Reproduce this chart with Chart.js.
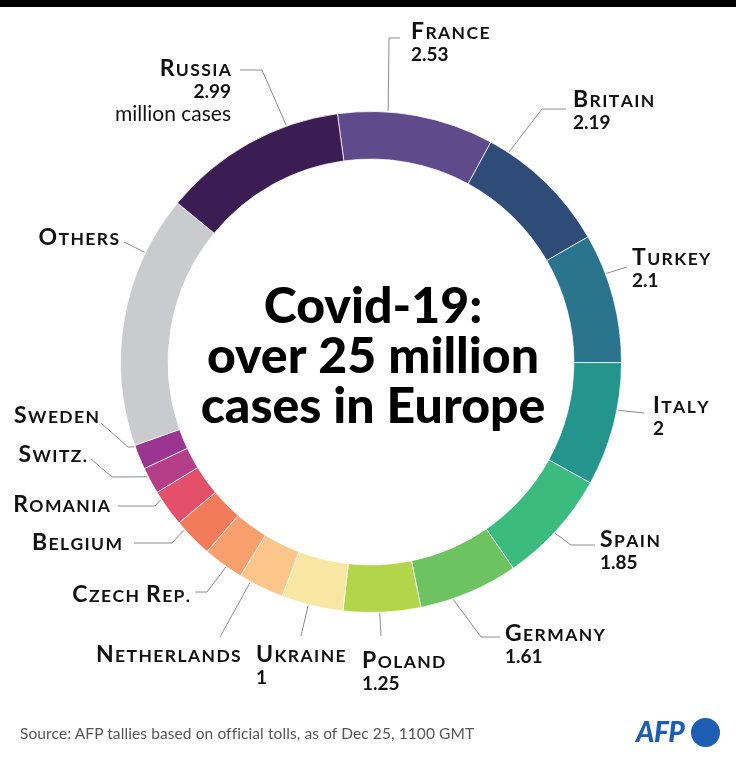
<!DOCTYPE html>
<html>
<head>
<meta charset="utf-8">
<script src="https://cdn.jsdelivr.net/npm/chart.js@4.4.0/dist/chart.umd.min.js"></script>
<style>
  html, body { margin: 0; padding: 0; background: #fff; }
  #wrap { position: relative; width: 736px; height: 762px; overflow: hidden; border-top: 7px solid #000; box-sizing: border-box; }
  #chart { position: absolute; left: 0; top: -7px; }
  #source { position: absolute; left: 20px; top: 717px; font: 15.5px Lato, sans-serif; color: #555; letter-spacing: 0.1px; }
  #afp { position: absolute; left: 636px; top: 707px; font: italic 900 28px Lato, sans-serif; color: #1d5db2; letter-spacing: -0.5px; }
  #afpdot { position: absolute; left: 691px; top: 711px; width: 29px; height: 29px; border-radius: 50%; background: #1d5db2; }
</style>
</head>
<body>
<div id="wrap">
  <canvas id="chart" width="736" height="762"></canvas>
  <div id="source">Source: AFP tallies based on official tolls, as of Dec 25, 1100 GMT</div>
  <div id="afp">AFP</div>
  <div id="afpdot"></div>
</div>
<script>
// cases in millions, clockwise from the top
const countries = ['France', 'Britain', 'Turkey', 'Italy', 'Spain', 'Germany', 'Poland', 'Ukraine',
  'Netherlands', 'Czech Rep.', 'Belgium', 'Romania', 'Switz.', 'Sweden', 'Others', 'Russia'];
const cases = [2.53, 2.19, 2.1, 2, 1.85, 1.61, 1.25, 1, 0.74, 0.66, 0.64, 0.6, 0.43, 0.4, 4.1, 2.99];
const valueLabels = ['2.53', '2.19', '2.1', '2', '1.85', '1.61', '1.25', '1',
  '', '', '', '', '', '', '', '2.99'];

const sliceColors = ['#5f4b8b', '#2f4c79', '#2a748e', '#23958d', '#3bbb7e', '#6dc262', '#b3d54a', '#f7e7a3',
  '#fcc68a', '#f8a06d', '#f27b59', '#e4506a', '#b43e87', '#9b3592', '#cacbce', '#3c1d53'];

const titleLines = ['Covid-19:', 'over 25 million', 'cases in Europe'];

// callout layout: where the leader meets the slice (fraction of its arc), the bends, and the text
const callouts = [
  {name: 'France', f: 0.32, path: [[389, 38], [400, 38]], x: 411, y: 39, align: 'left'},
  {name: 'Britain', f: 0.15, path: [[542, 109], [566, 109]], x: 573, y: 107, align: 'left'},
  {name: 'Turkey', f: 0.31, path: [[627, 267]], x: 632, y: 265, align: 'left'},
  {name: 'Italy', f: 0.38, path: [[644, 413]], x: 653, y: 413, align: 'left'},
  {name: 'Spain', f: 0.53, path: [[571, 545], [595, 545]], x: 600, y: 547, align: 'left'},
  {name: 'Germany', f: 0.67, path: [[481, 637], [500, 637]], x: 505, y: 641, align: 'left'},
  {name: 'Poland', f: 0.53, path: [[381, 636]], x: 362, y: 668, align: 'left'},
  {name: 'Ukraine', f: 0.56, path: [[301, 636]], x: 256, y: 662, align: 'left'},
  {name: 'Netherlands', f: 0.75, path: [[220, 637]], x: 96, y: 662, align: 'left'},
  {name: 'Czech Rep.', f: 0.41, path: [[207, 592], [195, 592]], x: 190, y: 602, align: 'right'},
  {name: 'Belgium', f: 0.78, path: [[172, 543], [134, 543]], x: 122, y: 550, align: 'right'},
  {name: 'Romania', f: 0.78, path: [[155, 506], [118, 506]], x: 110, y: 512, align: 'right'},
  {name: 'Switz.', f: 0.68, path: [[112, 477], [91, 459]], x: 87, y: 462, align: 'right'},
  {name: 'Sweden', f: 0.95, path: [[128, 447], [101, 423]], x: 99, y: 423, align: 'right'},
  {name: 'Others', f: 0.77, path: [[124, 242]], x: 119, y: 245, align: 'right'},
  {name: 'Russia', f: 0.72, path: [[262, 70], [240, 70]], x: 231, y: 76, align: 'right', extra: 'million cases'}
];

const FONT = 'Lato, "Noto Sans", sans-serif';

// draws "Czech Rep." as small caps: capitals big, the rest as smaller capitals
const drawSmallCaps = (ctx, text, x, y, align) => {
  const big = `bold 23px ${FONT}`;
  const small = `bold 17.5px ${FONT}`;
  const track = 1.4;
  const chars = [...text].map(ch => {
    const isCap = ch !== ch.toLowerCase() && ch === ch.toUpperCase();
    ctx.font = isCap ? big : small;
    const up = ch.toUpperCase();
    return {ch: up, font: isCap ? big : small, w: ctx.measureText(up).width};
  });
  const width = chars.reduce((s, c) => s + c.w, 0) + track * (chars.length - 1);
  let cx = align === 'right' ? x - width : x;
  ctx.textAlign = 'left';
  chars.forEach(c => {
    ctx.font = c.font;
    ctx.fillText(c.ch, cx, y);
    cx += c.w + track;
  });
};

const calloutPlugin = {
  id: 'callouts',
  afterDatasetsDraw(chart) {
    const ctx = chart.ctx;
    const arcs = chart.getDatasetMeta(0).data;
    ctx.save();
    callouts.forEach(c => {
      const i = countries.indexOf(c.name);
      const arc = arcs[i];
      const a = arc.startAngle + c.f * (arc.endAngle - arc.startAngle);
      const ax = arc.x + Math.cos(a) * (arc.outerRadius + 1);
      const ay = arc.y + Math.sin(a) * (arc.outerRadius + 1);

      ctx.strokeStyle = '#8c8c8c';
      ctx.lineWidth = 1;
      ctx.beginPath();
      ctx.moveTo(ax, ay);
      c.path.forEach(p => ctx.lineTo(p[0], p[1]));
      ctx.stroke();

      ctx.fillStyle = '#111';
      ctx.textBaseline = 'alphabetic';
      drawSmallCaps(ctx, c.name, c.x, c.y, c.align);
      if (valueLabels[i]) {
        ctx.font = `bold 19px ${FONT}`;
        ctx.textAlign = c.align;
        ctx.fillText(valueLabels[i], c.x, c.y + 22);
      }
      if (c.extra) {
        ctx.font = `21px ${FONT}`;
        ctx.textAlign = c.align;
        ctx.fillText(c.extra, c.x, c.y + 45);
      }
    });

    // title in the hole
    const cx = arcs[0].x;
    ctx.fillStyle = '#000';
    ctx.textAlign = 'center';
    ctx.font = `900 50px ${FONT}`;
    titleLines.forEach((line, k) => {
      ctx.fillText(line, cx + 2, 323 + k * 50);
    });
    ctx.restore();
  }
};

const createChart = () => {
  new Chart(document.getElementById('chart'), {
    type: 'doughnut',
    data: {
      labels: countries,
      datasets: [{
        data: cases,
        backgroundColor: sliceColors,
        borderColor: 'rgba(255,255,255,0.75)',
        borderWidth: 1,
        hoverOffset: 0
      }]
    },
    options: {
      responsive: false,
      animation: false,
      events: [],
      rotation: -7.7,
      cutout: '81%',
      layout: {padding: {left: 120, top: 111, right: 114, bottom: 149}},
      plugins: {legend: {display: false}, tooltip: {enabled: false}}
    },
    plugins: [calloutPlugin]
  });
};

createChart();
</script>
</body>
</html>
